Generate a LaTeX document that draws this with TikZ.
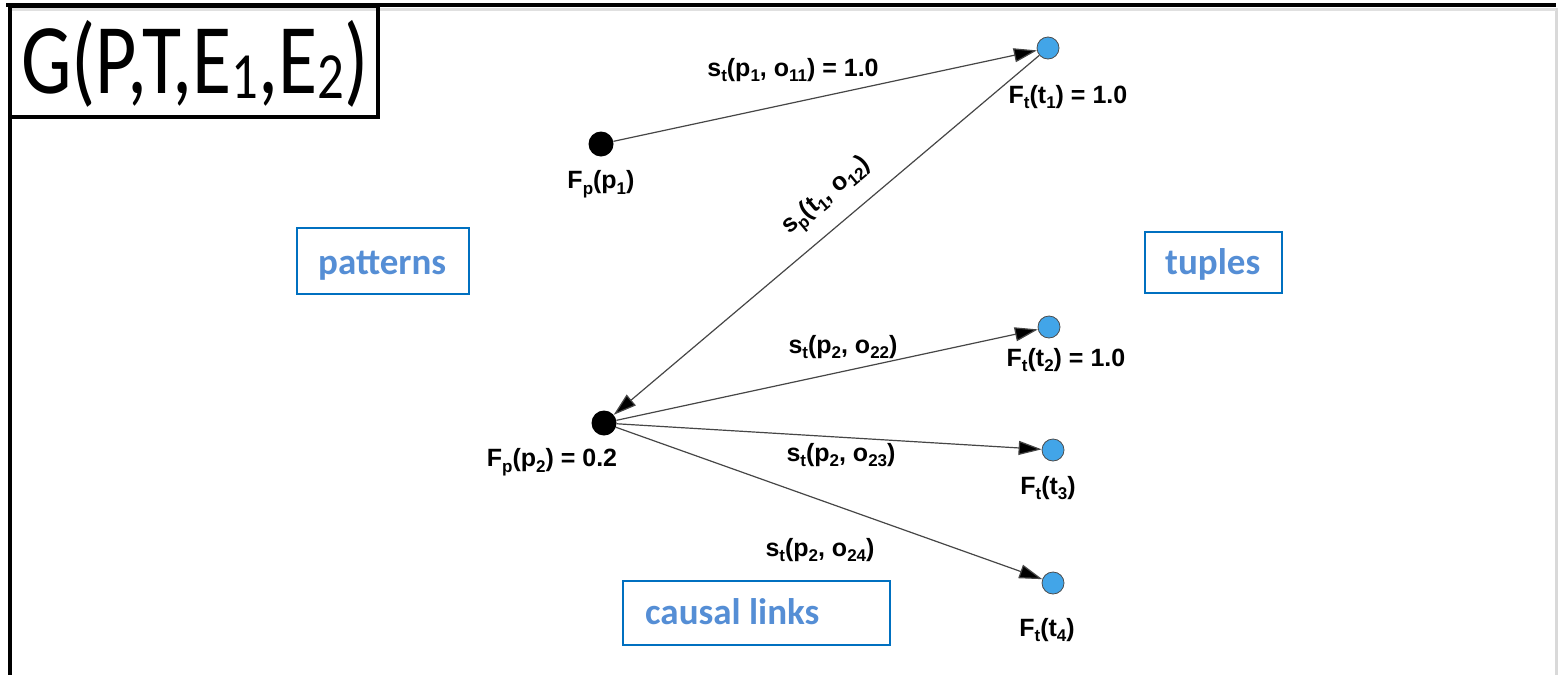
\documentclass[tikz,border=0pt]{standalone}
\usepackage{fontspec}
\setmainfont{Liberation Sans}
\newfontfamily\calibri{Carlito}
\usetikzlibrary{arrows.meta}
\definecolor{boxblue}{RGB}{0,112,192}
\definecolor{textblue}{RGB}{85,142,213}
\definecolor{dotblue}{RGB}{66,165,232}
\definecolor{edgegray}{RGB}{70,70,70}
% lowered, smaller index in edge and node labels
\newcommand\lo[1]{\raisebox{-0.22em}{\fontsize{17}{17}\selectfont #1}}
% subscript of the title
\newcommand\tsub[1]{\raisebox{-5pt}{\fontsize{66}{66}\selectfont #1}}

\begin{document}
\begin{tikzpicture}[x=1pt,y=-1pt,
  lbl/.style={font=\fontsize{25}{25}\selectfont\bfseries, inner sep=0pt},
  pnode/.style={circle, fill=black, minimum size=25pt, inner sep=0pt},
  tnode/.style={circle, fill=dotblue, draw=black!70, line width=0.8pt, minimum size=22pt, inner sep=0pt},
  link/.style={draw=edgegray, line width=1.2pt, -{Triangle[length=23pt,width=14pt,fill=black]}},
  catbox/.style={draw=boxblue, line width=2.5pt},
  cattext/.style={font=\calibri\fontsize{37}{37}\selectfont\bfseries, text=textblue, inner sep=0pt, anchor=base west}]

\useasboundingbox (0,0) rectangle (1558,675);
\fill[white] (0,0) rectangle (1558,675);

% outer frame
\draw[black!15, line width=3pt] (1556,8) -- (1556,675);
\draw[black!12, line width=3pt] (12,9) -- (1556,9);
\draw[line width=4.5pt] (6,5) -- (1556,5);
\draw[line width=4pt] (10,5) -- (10,675);

% title box
\draw[line width=4pt] (10,6) rectangle (378,117);
\node[anchor=base west, inner sep=0pt] (title) at (21,93)
  {\calibri\scalebox{0.8}[1]{\fontsize{100}{100}\selectfont G(P,T,E\tsub{1},E\tsub{2})}};

% category boxes
\draw[catbox] (297,228) rectangle (469,294);
\node[cattext] (patterns) at (318,274) {patterns};
\draw[catbox] (1145,232) rectangle (1282,293);
\node[cattext] (tuples) at (1165,274) {tuples};
\draw[catbox] (623,581) rectangle (890,645);
\node[cattext] (causal) at (645,624) {causal links};

% graph nodes
\node[pnode] (p1) at (601,144) {};
\node[pnode] (p2) at (604,423) {};
\node[tnode] (t1) at (1048,48) {};
\node[tnode] (t2) at (1049,327) {};
\node[tnode] (t3) at (1053,450) {};
\node[tnode] (t4) at (1053,583) {};

% links
\draw[link] (p1) -- (t1);
\draw[link] (t1) -- (p2);
\draw[link] (p2) -- (t2);
\draw[link] (p2) -- (t3);
\draw[link] (p2) -- (t4);

% node labels
\node[lbl] (lp1) at (601,184) {F\lo{p}(p\lo{1})};
\node[lbl] (lp2) at (552,462) {F\lo{p}(p\lo{2}) = 0.2};
\node[lbl] (lt1) at (1068,97) {F\lo{t}(t\lo{1}) = 1.0};
\node[lbl] (lt2) at (1066,360) {F\lo{t}(t\lo{2}) = 1.0};
\node[lbl] (lt3) at (1048,488) {F\lo{t}(t\lo{3})};
\node[lbl] (lt4) at (1047,630) {F\lo{t}(t\lo{4})};

% link labels
\node[lbl] (e11) at (793,70) {s\lo{t}(p\lo{1}, o\lo{11}) = 1.0};
\node[lbl, rotate=40] (e12) at (827,197) {s\lo{p}(t\lo{1}, o\lo{12})};
\node[lbl] (e22) at (843,347) {s\lo{t}(p\lo{2}, o\lo{22})};
\node[lbl] (e23) at (841,455) {s\lo{t}(p\lo{2}, o\lo{23})};
\node[lbl] (e24) at (820,550) {s\lo{t}(p\lo{2}, o\lo{24})};
\end{tikzpicture}
\end{document}
